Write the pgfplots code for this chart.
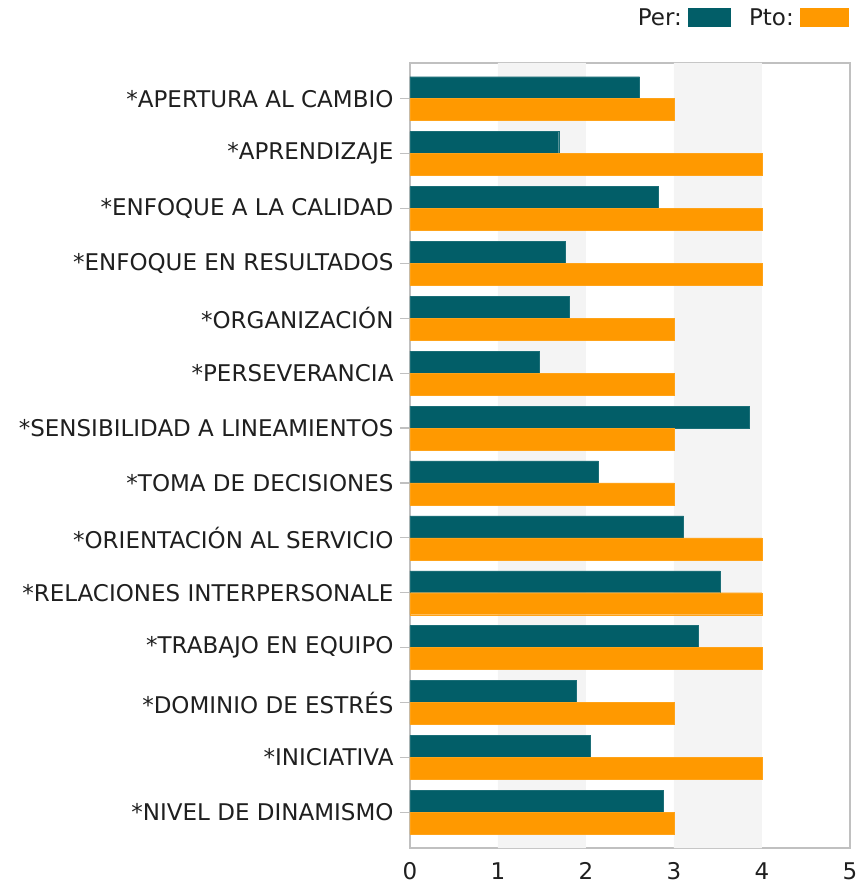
\documentclass[border=0pt]{standalone}
\usepackage{fontspec}
\setmainfont{DejaVu Sans}
\usepackage{pgfplots}
\pgfplotsset{compat=1.18}
\definecolor{per}{RGB}{2,94,104}
\definecolor{pto}{RGB}{255,153,0}
\definecolor{band}{RGB}{244,244,244}
\definecolor{frame}{RGB}{192,192,192}
\newcommand{\lblfont}{\fontsize{23bp}{27bp}\selectfont}
\begin{document}
\begin{tikzpicture}
\begin{axis}[
  name=ax,
  width=440bp, height=785bp, scale only axis,
  xmin=0, xmax=5, ymin=-0.65, ymax=13.65,
  y dir=reverse,
  axis line style={draw=frame, line width=1.2bp},
  xtick={0,1,2,3,4,5},
  ytick={0,...,13},
  yticklabels={{*APERTURA AL CAMBIO},{*APRENDIZAJE},{*ENFOQUE A LA CALIDAD},{*ENFOQUE EN RESULTADOS},{*ORGANIZACIÓN},{*PERSEVERANCIA},{*SENSIBILIDAD A LINEAMIENTOS},{*TOMA DE DECISIONES},{*ORIENTACIÓN AL SERVICIO},{*RELACIONES INTERPERSONALE},{*TRABAJO EN EQUIPO},{*DOMINIO DE ESTRÉS},{*INICIATIVA},{*NIVEL DE DINAMISMO}},
  tick align=outside,
  xtick pos=bottom, ytick pos=left,
  x tick style={draw=none},
  y tick style={draw=frame, line width=1.2bp},
  major tick length=10bp,
  ticklabel style={font=\lblfont, text=black!88},
  /pgf/number format/assume math mode=true,
  xticklabel style={yshift=-1bp},
  yticklabel style={xshift=-3bp},
  bar width=0.4,
]
\addplot[fill=band, draw=none, forget plot] coordinates {(1,-0.65) (2,-0.65) (2,13.65) (1,13.65) (1,-0.65)};
\addplot[fill=band, draw=none, forget plot] coordinates {(3,-0.65) (4,-0.65) (4,13.65) (3,13.65) (3,-0.65)};
\addplot[xbar, bar shift=-0.2, fill=per, draw=per!90!white] coordinates {
(2.61,0) (1.69,1) (2.82,2) (1.76,3) (1.81,4) (1.47,5) (3.86,6) (2.14,7) (3.11,8) (3.52,9) (3.27,10) (1.89,11) (2.05,12) (2.88,13)};
\addplot[xbar, bar shift=0.2, fill=pto, draw=pto!90!white] coordinates {
(3,0) (4,1) (4,2) (4,3) (3,4) (3,5) (3,6) (3,7) (4,8) (4,9) (4,10) (3,11) (4,12) (3,13)};
\end{axis}
% legend
\fill[pto] ([shift={(-50bp,36bp)}]ax.north east) rectangle ([shift={(-1bp,55bp)}]ax.north east);
\fill[per] ([shift={(-162bp,36bp)}]ax.north east) rectangle ([shift={(-119bp,55bp)}]ax.north east);
\node[anchor=east, inner sep=0pt, font=\lblfont, text=black!88] at ([shift={(-56bp,45.5bp)}]ax.north east) {Pto:};
\node[anchor=east, inner sep=0pt, font=\lblfont, text=black!88] at ([shift={(-168bp,45.5bp)}]ax.north east) {Per:};
% bounding box
\path (ax.south west) ++(-410bp,-36bp) coordinate (bbA);
\path (ax.north east) ++(8bp,63bp) coordinate (bbB);
\path (bbA) rectangle (bbB);
\end{tikzpicture}
\end{document}
